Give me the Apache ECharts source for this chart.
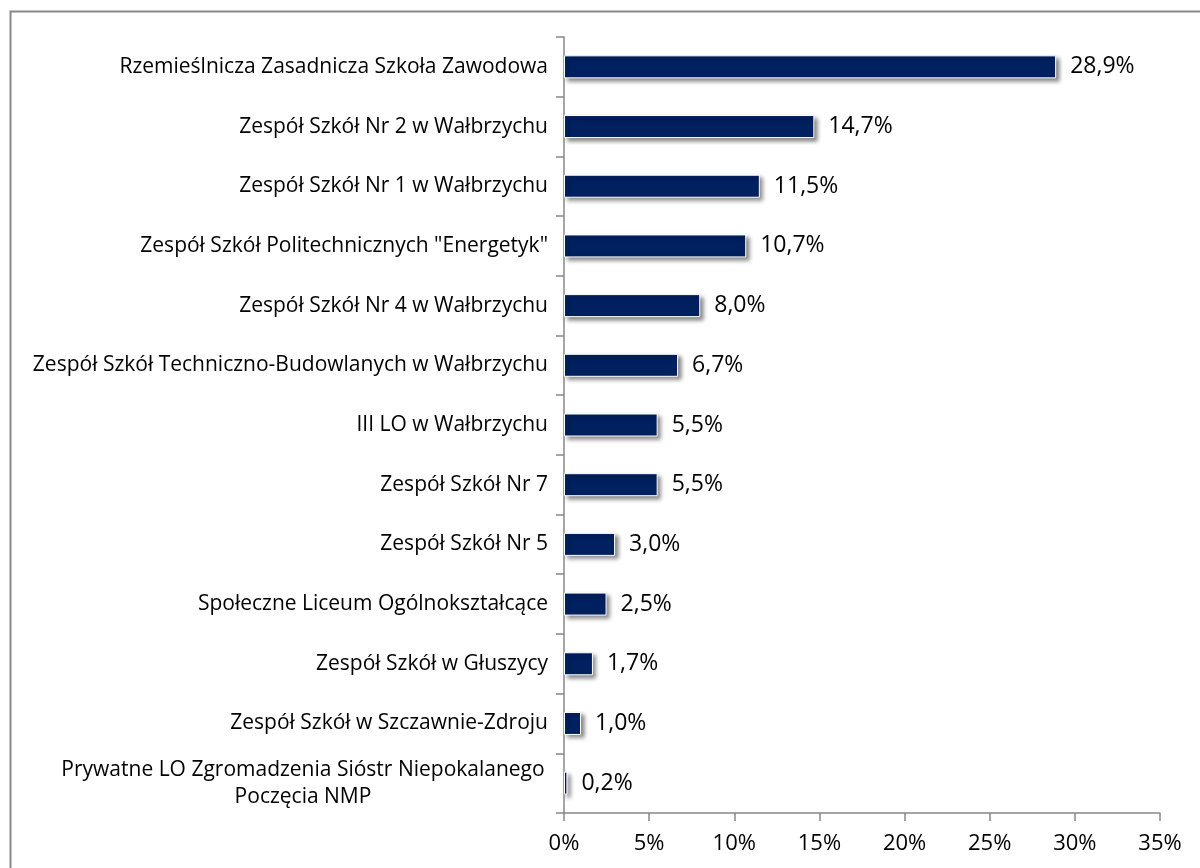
<!DOCTYPE html>
<html>
<head>
<meta charset="utf-8">
<script src="https://cdn.jsdelivr.net/npm/echarts@6/dist/echarts.min.js"></script>
<style>
	html, body { margin: 0; padding: 0; background: #fff; }
	#chart { width: 1200px; height: 868px; }
</style>
</head>
<body>
<div id="chart"></div>
<script>
// schools, top to bottom as in the picture
const schools = [
	'Rzemieślnicza Zasadnicza Szkoła Zawodowa',
	'Zespół Szkół Nr 2 w Wałbrzychu',
	'Zespół Szkół Nr 1 w Wałbrzychu',
	'Zespół Szkół Politechnicznych "Energetyk"',
	'Zespół Szkół Nr 4 w Wałbrzychu',
	'Zespół Szkół Techniczno-Budowlanych w Wałbrzychu',
	'III LO w Wałbrzychu',
	'Zespół Szkół Nr 7',
	'Zespół Szkół Nr 5',
	'Społeczne Liceum Ogólnokształcące',
	'Zespół Szkół w Głuszycy',
	'Zespół Szkół w Szczawnie-Zdroju',
	'Prywatne LO Zgromadzenia Sióstr Niepokalanego\nPoczęcia NMP',
];
const shares = [28.9, 14.7, 11.5, 10.7, 8.0, 6.7, 5.5, 5.5, 3.0, 2.5, 1.7, 1.0, 0.2];

const font = 'Open Sans';
const gray = '#888888';
const catSize = 21;

const myChart = echarts.init(document.getElementById('chart'), null, { renderer: 'canvas' });

const option = {
	animation: false,
	backgroundColor: '#ffffff',
	graphic: [
		{
			type: 'rect',
			left: 8,
			top: 9,
			shape: { width: 1400, height: 1000 },
			style: { fill: 'none', stroke: gray, lineWidth: 2 },
			silent: true,
		},
	],
	grid: { left: 564, right: 40, top: 37, bottom: 55, containLabel: false },
	xAxis: {
		type: 'value',
		min: 0,
		max: 35,
		interval: 5,
		axisLine: { show: true, lineStyle: { color: gray, width: 1.5 } },
		axisTick: { show: true, length: 8, lineStyle: { color: gray, width: 1.5 } },
		splitLine: { show: false },
		axisLabel: {
			color: '#000',
			fontFamily: font,
			fontSize: 22,
			margin: 20,
			formatter: (v) => v + '%',
		},
	},
	yAxis: {
		type: 'category',
		inverse: true,
		data: schools,
		axisLine: { show: true, lineStyle: { color: gray, width: 1.5 } },
		axisTick: { show: true, length: 8, alignWithLabel: false, lineStyle: { color: gray, width: 1.5 } },
		axisLabel: {
			color: '#000',
			fontFamily: font,
			fontSize: catSize,
			margin: 16,
			lineHeight: 27,
			// the wrapped label is centred line by line
			formatter: (v) => {
				if (v.indexOf('\n') >= 0) {
					return v.split('\n').map((s) => '{c|' + s + '}').join('\n');
				}
				return v;
			},
			rich: {
				c: { align: 'center', width: 490, fontFamily: font, fontSize: catSize, color: '#000', lineHeight: 27 },
			},
		},
	},
	series: [
		{
			type: 'bar',
			data: shares,
			barWidth: 23,
			itemStyle: {
				color: '#002060',
				borderColor: '#ffffff',
				borderWidth: 1,
				shadowColor: 'rgba(0,0,0,0.45)',
				shadowBlur: 4,
				shadowOffsetX: 3,
				shadowOffsetY: 3,
			},
			label: {
				show: true,
				position: 'right',
				distance: 14,
				color: '#000',
				fontFamily: font,
				fontSize: 23,
				formatter: (p) => p.value.toFixed(1).replace('.', ',') + '%',
			},
		},
	],
};

myChart.setOption(option);
</script>
</body>
</html>
